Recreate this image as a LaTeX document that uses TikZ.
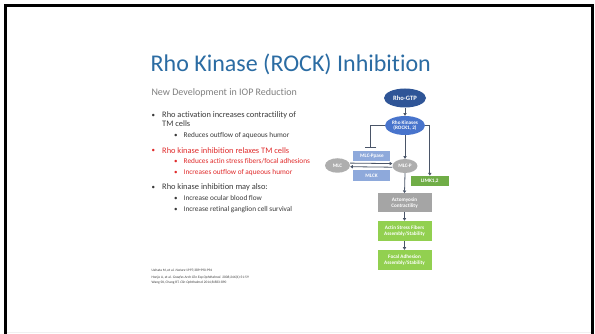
\documentclass[tikz,border=0pt]{standalone}
\usepackage{fontspec}
\setmainfont{Carlito}[Ligatures=NoCommon]
\usetikzlibrary{shapes.geometric,arrows.meta}
\definecolor{titleblue}{HTML}{2B6CA3}
\definecolor{subgray}{HTML}{808080}
\definecolor{txtgray}{HTML}{3A3A3A}
\definecolor{redtxt}{HTML}{E02B2B}
\definecolor{gtpblue}{HTML}{2F5597}
\definecolor{rockblue}{HTML}{4874CC}
\definecolor{lightblue}{HTML}{8EA9DB}
\definecolor{limkgreen}{HTML}{70AD47}
\definecolor{lightgreen}{HTML}{92D050}
\definecolor{boxgray}{HTML}{A5A5A5}
\definecolor{ellgray}{HTML}{AEAEAE}
\definecolor{conn}{HTML}{4A5568}
\tikzset{
  mainline/.style={anchor=base west, inner sep=0pt, font=\fontsize{8.4}{9}\selectfont},
  subline/.style={anchor=base west, inner sep=0pt, font=\fontsize{7.3}{8}\selectfont},
  bul/.style={anchor=base west, inner sep=0pt, font=\fontsize{7}{8}\selectfont},
  refline/.style={anchor=base west, inner sep=0pt, font=\fontsize{3.5}{4}\selectfont, text=txtgray},
  ell/.style={ellipse, inner sep=0pt, text=white, align=center, font=\bfseries\fontsize{5.2}{5.8}\selectfont},
  rbox/.style={rectangle, inner sep=0pt, text=white, align=center, font=\bfseries\fontsize{5.2}{5.9}\selectfont},
  conline/.style={draw=conn, line width=0.8pt},
  arr/.style={conline, -{Triangle[length=2.6pt,width=3.2pt]}},
}
\begin{document}
\begin{tikzpicture}[x=1pt,y=-1pt]
\useasboundingbox (0,0) rectangle (595,334);
\fill[white] (0,0) rectangle (595,334);
% frame
\fill[black] (4,4) rectangle (594,7);
\fill[black] (4,4) rectangle (7,334);
\fill[black] (591,4) rectangle (594,334);
\draw[black!6, line width=0.8pt] (7,332.6) -- (591,332.6);
% title
\node[anchor=base west, inner sep=0pt, text=titleblue, font=\fontsize{24}{28}\selectfont] (title) at (150.5,71.7) {Rho Kinase (ROCK) Inhibition};
\node[anchor=base west, inner sep=0pt, text=subgray, font=\fontsize{10}{12}\selectfont] (subtitle) at (151.3,95.7) {New Development in IOP Reduction};
% bullets
\begin{scope}[text=txtgray]
\node[bul] (b1) at (151.5,117.4) {•};
\node[mainline] (t1) at (162,117.6) {Rho activation increases contractility of};
\node[mainline] (t1b) at (162,126.6) {TM cells};
\node[bul] (b11) at (174,137.5) {•};
\node[subline] (t11) at (183.5,137.5) {Reduces outflow of aqueous humor};
\end{scope}
\begin{scope}[text=redtxt]
\node[bul] (b2) at (151.5,152.9) {•};
\node[mainline] (t2) at (162,153.1) {Rho kinase inhibition relaxes TM cells};
\node[bul] (b21) at (174,163.8) {•};
\node[subline] (t21) at (183.5,163.8) {Reduces actin stress fibers/focal adhesions};
\node[bul] (b22) at (174,174.6) {•};
\node[subline] (t22) at (183.5,174.6) {Increases outflow of aqueous humor};
\end{scope}
\begin{scope}[text=txtgray]
\node[bul] (b3) at (151.5,189.7) {•};
\node[mainline] (t3) at (162,189.9) {Rho kinase inhibition may also:};
\node[bul] (b31) at (174,200.9) {•};
\node[subline] (t31) at (183.5,200.9) {Increase ocular blood flow};
\node[bul] (b32) at (174,211.5) {•};
\node[subline] (t32) at (183.5,211.5) {Increase retinal ganglion cell survival};
\end{scope}
% references
\node[refline] (r1) at (151.5,272) {Uehata M, et al. \textit{Nature} 1997;389:990-994};
\node[refline] (r2) at (151.5,278.8) {Honjo A, et al. \textit{Graefes Arch Clin Exp Ophthalmol.} 2008;246(1):51-59};
\node[refline] (r3) at (151.5,283.6) {Wang SK, Chang RT. \textit{Clin Ophthalmol} 2014;8:883-890};
% diagram
\node[ell, fill=gtpblue, minimum width=42pt, minimum height=19pt, font=\bfseries\fontsize{6.6}{7}\selectfont] (gtp) at (405,98) {Rho-GTP};
\node[ell, fill=rockblue, minimum width=40pt, minimum height=19pt] (rock) at (405,125.5) {Rho Kinases\\(ROCK1, 2)};
\node[rbox, fill=lightblue, minimum width=37pt, minimum height=9.5pt] (mlcp) at (371.9,155.8) {MLC-Ppase};
\node[ell, fill=ellgray, minimum width=25pt, minimum height=14.5pt] (mlc) at (337.5,165.5) {MLC};
\node[ell, fill=ellgray, minimum width=25pt, minimum height=14pt] (mlcpp) at (405,166) {MLC-P};
\node[rbox, fill=lightblue, minimum width=36.5pt, minimum height=10.5pt] (mlck) at (371.5,175.5) {MLCK};
\node[rbox, fill=limkgreen, minimum width=37.5pt, minimum height=10pt] (limk) at (429.8,180.8) {LIMK1,2};
\node[rbox, fill=boxgray, minimum width=54pt, minimum height=19pt] (acto) at (404.5,202.8) {Actomyosin\\Contractility};
\node[rbox, fill=lightgreen, minimum width=54pt, minimum height=19.7pt] (asf) at (404.5,230.8) {Actin Stress Fibers\\Assembly/Stability};
\node[rbox, fill=lightgreen, minimum width=54pt, minimum height=19.5pt] (fa) at (404.5,259.8) {Focal Adhesion\\Assembly/Stability};
\coordinate (tbar) at (370.8,148);
% connectors
\draw[arr] (gtp.south) -- (rock.north);
\draw[conline, -{Bar[width=11pt]}] (rock.west) -| (tbar);
\draw[arr] (rock.east) -| (limk.north);
\draw[arr] (rock.south) -- (mlcpp.north);
\draw[arr] ([yshift=2.4pt]mlc.east) -- ([yshift=2.4pt]mlcpp.west);
\draw[arr] ([yshift=-1.2pt]mlcpp.west) -- ([yshift=-1.2pt]mlc.east);
\draw[arr] (mlcpp.south) -- (acto.north);
\draw[arr] (acto.south) -- (asf.north);
\draw[arr] (asf.south) -- (fa.north);
\end{tikzpicture}
\end{document}
